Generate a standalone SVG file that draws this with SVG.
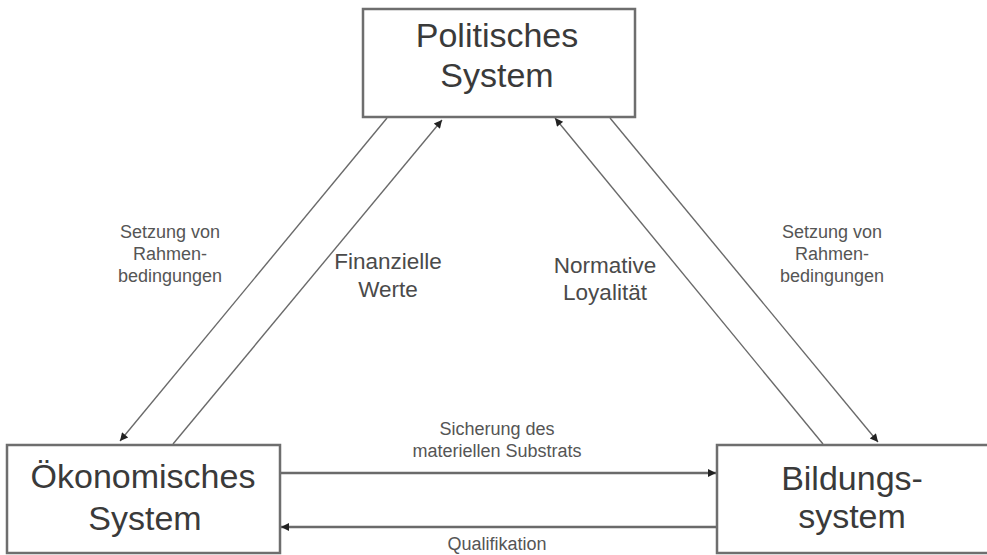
<svg xmlns="http://www.w3.org/2000/svg" width="987" height="555" viewBox="0 0 987 555">
<defs>
<marker id="ah" viewBox="0 0 10 10" refX="10" refY="5" markerWidth="10" markerHeight="8" markerUnits="userSpaceOnUse" orient="auto">
<path d="M0,0 L10,5 L0,10 z" fill="#222"/>
</marker>
<style>
.box{fill:#fff;stroke:#6e6e6e;stroke-width:2.5}
.big{font-family:"Liberation Sans",Arial,sans-serif;font-size:34px;fill:#3a3a3a;text-anchor:middle}
.mid{font-family:"Liberation Sans",Arial,sans-serif;font-size:22.5px;fill:#4a4a4a;text-anchor:middle}
.sm{font-family:"Liberation Sans",Arial,sans-serif;font-size:18px;fill:#555;text-anchor:middle}
.ln{stroke:#6a6a6a;stroke-width:1.4;fill:none}
.hl{stroke:#6a6a6a;stroke-width:2.5;fill:none}
</style>
</defs>
<rect width="987" height="555" fill="#fff"/>
<g id="connectors">
<line class="ln" x1="387" y1="118" x2="120" y2="441" marker-end="url(#ah)"/>
<line class="ln" x1="173" y1="444" x2="442" y2="120" marker-end="url(#ah)"/>
<line class="ln" x1="823" y1="444" x2="555" y2="118" marker-end="url(#ah)"/>
<line class="ln" x1="610" y1="118" x2="878" y2="442" marker-end="url(#ah)"/>
<line class="hl" x1="281" y1="473" x2="716" y2="473" marker-end="url(#ah)"/>
<line class="hl" x1="716" y1="527" x2="281" y2="527" marker-end="url(#ah)"/>
<text class="sm" x="170" y="238">Setzung von</text>
<text class="sm" x="170" y="260">Rahmen-</text>
<text class="sm" x="170" y="282">bedingungen</text>
<text class="mid" x="388" y="269">Finanzielle</text>
<text class="mid" x="388" y="297">Werte</text>
<text class="mid" x="605" y="273">Normative</text>
<text class="mid" x="605" y="300">Loyalität</text>
<text class="sm" x="832" y="238">Setzung von</text>
<text class="sm" x="832" y="260">Rahmen-</text>
<text class="sm" x="832" y="282">bedingungen</text>
<text class="sm" x="497" y="435">Sicherung des</text>
<text class="sm" x="497" y="457">materiellen Substrats</text>
<text class="sm" x="497" y="550">Qualifikation</text>
</g>
<g id="politisches">
<rect class="box" x="363" y="9" width="272" height="108"/>
<text class="big" x="497" y="47">Politisches</text>
<text class="big" x="497" y="87">System</text>
</g>
<g id="oekonomisches">
<rect class="box" x="7" y="445" width="273" height="108"/>
<text class="big" x="143" y="488">Ökonomisches</text>
<text class="big" x="145" y="530">System</text>
</g>
<g id="bildung">
<rect class="box" x="717" y="445" width="285" height="108"/>
<text class="big" x="852" y="490">Bildungs-</text>
<text class="big" x="852" y="528">system</text>
</g>
</svg>
